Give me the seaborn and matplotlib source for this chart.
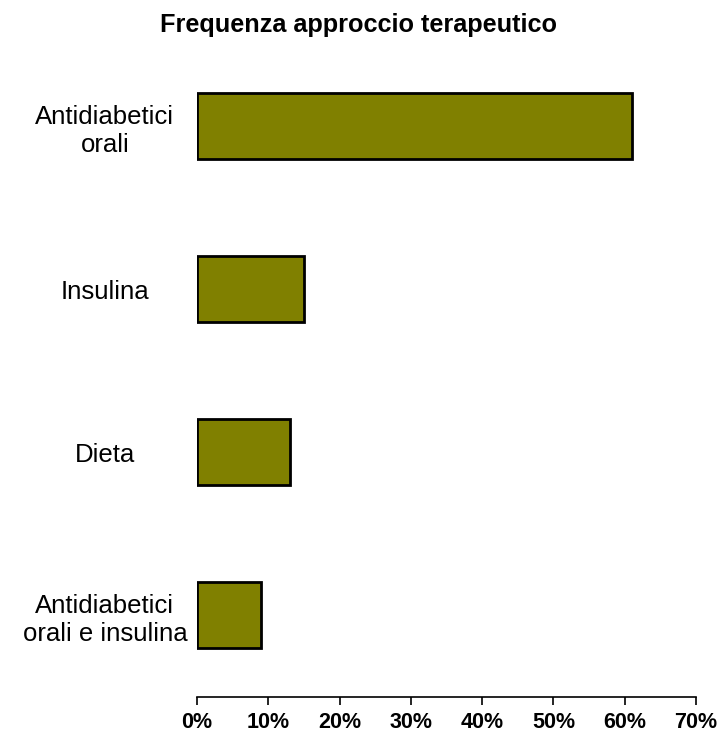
import pandas as pd
import matplotlib.pyplot as plt
import seaborn as sns
from matplotlib.ticker import PercentFormatter


# data

approcci = ["Antidiabetici\norali", "Insulina", "Dieta", "Antidiabetici\norali e insulina"]
frequenze = [61, 15, 13, 9]

df = pd.DataFrame({"approccio": approcci, "frequenza": frequenze})


# plot

sns.set_style("white")
plt.rcParams["font.family"] = ["Liberation Sans", "DejaVu Sans"]
plt.rcParams["text.color"] = "black"
plt.rcParams["xtick.color"] = "black"
plt.rcParams["ytick.color"] = "black"

fig = plt.figure(figsize=(7.17, 7.37), dpi=100)
ax = fig.add_axes([0.2748, 0.0543, 0.6959, 0.8847])

sns.barplot(data=df, x="frequenza", y="approccio", orient="h",
            color="#808000", saturation=1, width=0.405,
            edgecolor="black", linewidth=2, ax=ax)

ax.set_xlim(0, 70)
ax.set_ylim(3.5, -0.5)
ax.set_xticks(range(0, 71, 10))
ax.xaxis.set_major_formatter(PercentFormatter(decimals=0))
ax.tick_params(axis="x", bottom=True, length=6, width=1.2, pad=5, labelsize=15.5)
for lab in ax.get_xticklabels():
    lab.set_fontweight("bold")
ax.tick_params(axis="y", left=False, pad=0, labelsize=18.5)
for lab in ax.get_yticklabels():
    lab.set_horizontalalignment("center")
    lab.set_x(-0.175)

ax.set_xlabel("")
ax.set_ylabel("")
sns.despine(ax=ax, left=True)
ax.spines["bottom"].set_color("black")
ax.spines["bottom"].set_linewidth(1.2)

fig.text(0.5, 0.966, "Frequenza approccio terapeutico", ha="center", va="center",
         fontsize=18.2, fontweight="bold")

fig.savefig("out.png", dpi=100)
plt.close()
